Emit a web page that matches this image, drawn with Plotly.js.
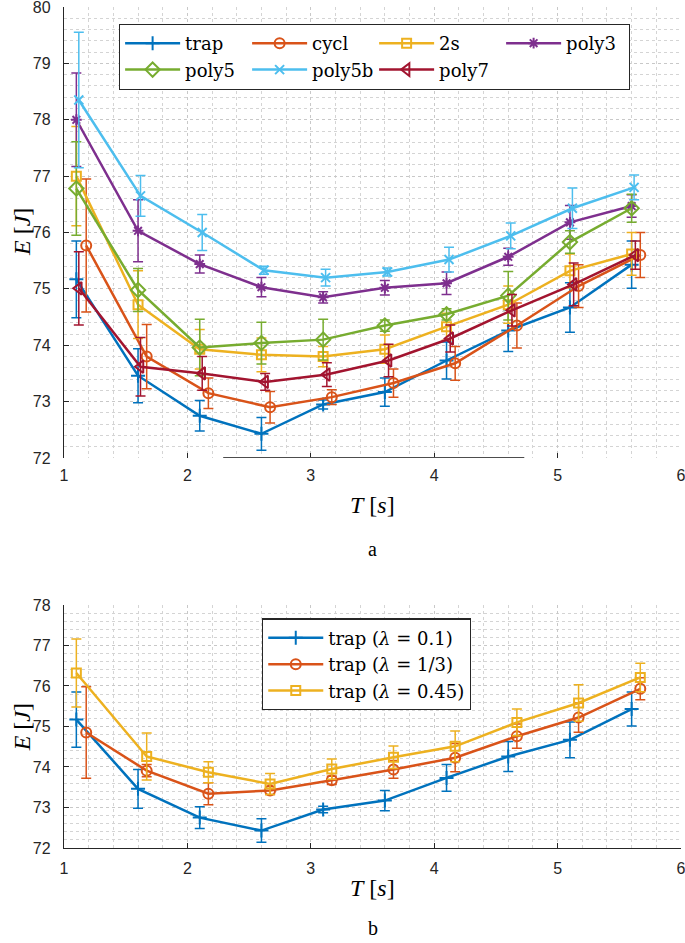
<!DOCTYPE html>
<html>
<head>
<meta charset="utf-8">
<script src="https://cdn.plot.ly/plotly-3.0.1.min.js"></script>
<style>
html, body { margin: 0; padding: 0; background: #fff; }
#chart { width: 685px; height: 943px; }
</style>
</head>
<body>
<div id="chart"></div>
<script>
// x positions (slightly shifted per series in the original)
var xTrap   = [1.1, 1.6, 2.1, 2.6, 3.1, 3.6, 4.1, 4.6, 5.1, 5.6];
var xCycl   = [1.18, 1.67, 2.17, 2.67, 3.17, 3.67, 4.17, 4.67, 5.17, 5.67];
var xPoly5b = [1.12, 1.62, 2.12, 2.62, 3.12, 3.62, 4.12, 4.62, 5.12, 5.62];
var xPoly7  = [1.12, 1.62, 2.12, 2.63, 3.13, 3.63, 4.13, 4.63, 5.13, 5.63];
var xLam45  = [1.1, 1.67, 2.17, 2.67, 3.17, 3.67, 4.17, 4.67, 5.17, 5.67];

// panel a
var eTrap    = [75.17, 73.46, 72.75, 72.43, 72.95, 73.17, 73.73, 74.26, 74.67, 75.43];
var errTrap  = [0.68, 0.48, 0.27, 0.29, 0.08, 0.25, 0.33, 0.37, 0.44, 0.42];
var eCycl    = [75.77, 73.8, 73.15, 72.9, 73.08, 73.33, 73.68, 74.35, 75.05, 75.6];
var errCycl  = [1.18, 0.57, 0.27, 0.28, 0.13, 0.25, 0.3, 0.4, 0.38, 0.4];
var e2s      = [77.0, 74.72, 73.93, 73.83, 73.8, 73.93, 74.33, 74.72, 75.32, 75.62];
var err2s    = [0.88, 0.6, 0.35, 0.3, 0.18, 0.25, 0.24, 0.33, 0.3, 0.38];
var ePoly3   = [78.0, 76.03, 75.44, 75.03, 74.85, 75.02, 75.1, 75.57, 76.18, 76.47];
var errPoly3 = [0.83, 0.55, 0.16, 0.17, 0.1, 0.13, 0.2, 0.15, 0.3, 0.2];
var ePoly5   = [76.78, 74.98, 73.96, 74.04, 74.1, 74.35, 74.55, 74.88, 75.83, 76.43];
var errPoly5 = [0.83, 0.38, 0.5, 0.37, 0.36, 0.1, 0.1, 0.43, 0.2, 0.25];
var ePoly5b  = [78.35, 76.65, 76.0, 75.33, 75.2, 75.3, 75.52, 75.94, 76.43, 76.8];
var errPoly5b = [1.2, 0.36, 0.32, 0.07, 0.15, 0.07, 0.22, 0.23, 0.36, 0.22];
var ePoly7   = [75.01, 73.62, 73.5, 73.35, 73.48, 73.73, 74.12, 74.62, 75.08, 75.6];
var errPoly7 = [0.65, 0.52, 0.3, 0.15, 0.21, 0.29, 0.24, 0.28, 0.38, 0.25];

// panel b
var eLam10   = eTrap;
var errLam10 = errTrap;
var eLam33   = [74.85, 73.91, 73.34, 73.42, 73.67, 73.94, 74.23, 74.76, 75.22, 75.93];
var errLam33 = [1.13, 0.15, 0.27, 0.1, 0.1, 0.22, 0.35, 0.3, 0.36, 0.27];
var eLam45   = [76.32, 74.26, 73.87, 73.58, 73.95, 74.24, 74.51, 75.1, 75.58, 76.21];
var errLam45 = [0.84, 0.58, 0.26, 0.26, 0.25, 0.28, 0.38, 0.33, 0.45, 0.35];

var blue = '#0072BD', orange = '#D95319', yellow = '#EDB120', purple = '#7E2F8E',
    green = '#77AC30', cyan = '#4DBEEE', red = '#A2142F';

function series(name, x, y, err, color, symbol, size, axis, legend) {
    return {
        x: x, y: y, name: name, type: 'scatter', mode: 'lines+markers',
        xaxis: axis[0], yaxis: axis[1], legend: legend,
        line: { color: color, width: 2.5 },
        marker: { symbol: symbol, size: size, color: color, line: { color: color, width: 2 } },
        error_y: { type: 'data', array: err, visible: true, color: color, thickness: 1.5, width: 5 }
    };
}

var A = ['x', 'y'], B = ['x2', 'y2'];
var eq = '\u00a0=\u00a0';
var data = [
    series('trap', xTrap, eTrap, errTrap, blue, 'cross-thin-open', 10, A, 'legend'),
    series('cycl', xCycl, eCycl, errCycl, orange, 'circle-open', 10, A, 'legend'),
    series('2s', xTrap, e2s, err2s, yellow, 'square-open', 9, A, 'legend'),
    series('poly3', xTrap, ePoly3, errPoly3, purple, 'asterisk-open', 9, A, 'legend'),
    series('poly5', xTrap, ePoly5, errPoly5, green, 'diamond-open', 11, A, 'legend'),
    series('poly5b', xPoly5b, ePoly5b, errPoly5b, cyan, 'x-thin-open', 9, A, 'legend'),
    series('poly7', xPoly7, ePoly7, errPoly7, red, 'triangle-left-open', 11, A, 'legend'),
    series('trap (<i>λ</i>' + eq + '0.1)', xTrap, eLam10, errLam10, blue, 'cross-thin-open', 10, B, 'legend2'),
    series('trap (<i>λ</i>' + eq + '1/3)', xCycl, eLam33, errLam33, orange, 'circle-open', 10, B, 'legend2'),
    series('trap (<i>λ</i>' + eq + '0.45)', xLam45, eLam45, errLam45, yellow, 'square-open', 9, B, 'legend2')
];

var axisColor = '#262626';
var tickFont = { family: 'Liberation Sans, Arial, sans-serif', size: 16, color: axisColor };
var minorGrid = { dtick: 0.2, showgrid: true, gridcolor: '#d4d4d4', griddash: 'dot', gridwidth: 1, ticks: '' };
function xAxis(anchor, line) {
    return {
        anchor: anchor, range: [1, 6], dtick: 1, tick0: 1, ticks: 'inside', ticklen: 5,
        tickcolor: axisColor, tickfont: tickFont, ticklabelstandoff: 6, ticklabeloverflow: 'allow',
        showline: line, linecolor: axisColor, linewidth: 1.2,
        showgrid: true, gridcolor: '#c8c8c8', griddash: 'dot', zeroline: false,
        minor: minorGrid, fixedrange: true
    };
}
function yAxis(anchor, range, domain) {
    return {
        anchor: anchor, range: range, domain: domain, dtick: 1, ticks: 'inside', ticklen: 5,
        tickcolor: axisColor, tickfont: tickFont, ticklabelstandoff: 9, ticklabeloverflow: 'allow',
        showline: true, linecolor: axisColor, linewidth: 1.2,
        showgrid: true, gridcolor: '#c8c8c8', griddash: 'dot', zeroline: false,
        minor: minorGrid, fixedrange: true
    };
}

var serif = 'Liberation Serif, Times New Roman, serif';
var legendFont = { family: 'DejaVu Serif, serif', size: 18, color: '#000' };

function label(text, x, y, size, angle) {
    return { text: text, xref: 'paper', yref: 'paper', x: x, y: y, xanchor: 'center', yanchor: 'middle',
             textangle: angle || 0, showarrow: false, font: { family: serif, size: size, color: '#000' } };
}

var layout = {
    width: 685, height: 943,
    margin: { l: 64, r: 4, t: 7, b: 95 },
    paper_bgcolor: '#fff', plot_bgcolor: '#fff',
    xaxis: xAxis('y', false),
    yaxis: yAxis('x', [72, 80], [0.4637, 1]),
    xaxis2: xAxis('y2', true),
    yaxis2: yAxis('x2', [72, 78], [0, 0.289]),
    legend: {
        x: 0.089, y: 0.98, xanchor: 'left', yanchor: 'top', orientation: 'h',
        itemwidth: 55, entrywidth: 57, entrywidthmode: 'pixels', tracegroupgap: 0,
        bgcolor: '#fff', bordercolor: axisColor, borderwidth: 1.2, font: legendFont
    },
    legend2: {
        x: 0.321, y: 0.273, xanchor: 'left', yanchor: 'top', itemwidth: 55,
        bgcolor: '#fff', bordercolor: axisColor, borderwidth: 1.2, font: legendFont
    },
    shapes: [
        // darker stretch of the lower axis in panel a
        { type: 'line', xref: 'x', yref: 'y', x0: 2.29, x1: 4.73, y0: 72, y1: 72,
          line: { color: '#4d4d4d', width: 2 } }
    ],
    annotations: [
        label('<i>E</i> [<i>J</i>]', -0.069, 0.733, 24, -90),
        label('<i>T</i> [<i>s</i>]', 0.5, 0.4074, 24),
        label('a', 0.5, 0.3551, 20),
        label('<i>E</i> [<i>J</i>]', -0.069, 0.144, 24, -90),
        label('<i>T</i> [<i>s</i>]', 0.5, -0.0475, 24),
        label('b', 0.5, -0.095, 20)
    ]
};

Plotly.newPlot('chart', data, layout, { displayModeBar: false, staticPlot: true });
</script>
</body>
</html>
